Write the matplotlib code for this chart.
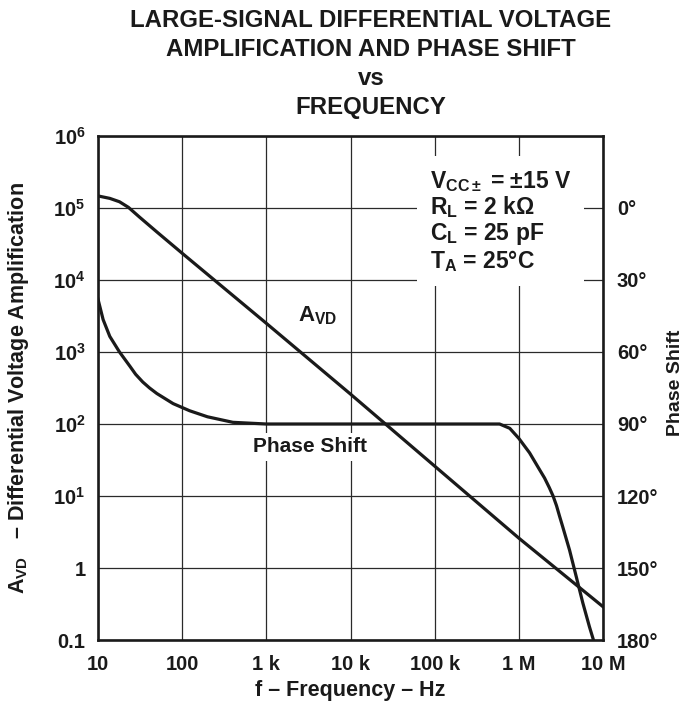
import matplotlib
matplotlib.use("Agg")
import matplotlib.pyplot as plt

# ---------------------------------------------------------------------------
# Data
# ---------------------------------------------------------------------------

avd_freq = [10, 13.8, 18, 23, 31, 50, 100, 1e3, 1e4, 1e5, 1e6, 1e7]
avd_gain = [1.47e5, 1.36e5, 1.22e5, 1.02e5, 7.5e4, 4.65e4, 2.35e4, 2.5e3, 260, 26, 2.6, 0.29]

phase_freq = [10, 11.5, 13.8, 18, 24, 28, 34, 41, 50, 78, 123, 200, 400, 1e3, 1e4,
              1e5, 5.9e5, 7.8e5, 1e6, 1.34e6, 1.76e6, 2.02e6, 2.3e6, 2.55e6,
              2.8e6, 3.05e6, 3.3e6, 4.0e6, 4.8e6, 5.75e6, 6.9e6, 7.7e6]
phase_deg = [38, 46.5, 53.5, 60, 66, 69.3, 72.5, 75, 77.3, 81.5, 84.5, 87, 89.3, 90, 90,
             90, 90, 91.8, 96, 102, 109, 112.5, 116.5, 120,
             124, 128.5, 132.5, 142.5, 153.5, 164.5, 174.5, 180]

x_ticks = [10, 100, 1e3, 1e4, 1e5, 1e6, 1e7]
x_labels = ["10", "100", "1 k", "10 k", "100 k", "1 M", "10 M"]
y_ticks = [0.1, 1, 10, 1e2, 1e3, 1e4, 1e5, 1e6]
y_labels = ["0.1", "1", "10$^1$", "10$^2$", "10$^3$", "10$^4$", "10$^5$", "10$^6$"]
phase_ticks = [0, 30, 60, 90, 120, 150, 180]
phase_labels = ["0°", "30°", "60°", "90°", "120°", "150°", "180°"]

conditions = ("V$_{\\mathrm{CC}\\pm}$ = $\\pm$15 V\n"
              "R$_{\\mathrm{L}}$ = 2 k$\\Omega$\n"
              "C$_{\\mathrm{L}}$ = 25 pF\n"
              "T$_{\\mathrm{A}}$ = 25°C")

# ---------------------------------------------------------------------------
# Style
# ---------------------------------------------------------------------------

plt.rcParams["font.family"] = ["Liberation Sans", "DejaVu Sans"]
plt.rcParams["font.weight"] = "bold"
plt.rcParams["mathtext.fontset"] = "custom"
plt.rcParams["mathtext.rm"] = "Liberation Sans:bold"
plt.rcParams["mathtext.it"] = "Liberation Sans:bold"
plt.rcParams["mathtext.bf"] = "Liberation Sans:bold"
plt.rcParams["mathtext.sf"] = "Liberation Sans:bold"

INK = "#1a1a1a"
GRID = "#2a2a2a"
TICK_FS = 14.5

fig = plt.figure(figsize=(6.83, 7.02), dpi=100)
ax = fig.add_axes([0.1435, 0.0883, 0.7394, 0.718])
ax2 = ax.twinx()

ax.set_xscale("log")
ax.set_yscale("log")
ax.set_xlim(10, 1e7)
ax.set_ylim(0.1, 1e6)

ax.grid(True, which="major", color=GRID, linewidth=0.9)
for sp in ax.spines.values():
    sp.set_linewidth(1.9)
    sp.set_color(INK)

ax.plot(avd_freq, avd_gain, color=INK, linewidth=2.3, zorder=3)

# phase on the right-hand scale (inverted, 0 deg at the 10^5 line)
ax2.set_ylim(180, -30)
for sp in ax2.spines.values():
    sp.set_visible(False)
ax2.plot(phase_freq, phase_deg, color=INK, linewidth=2.3, zorder=3)

ax.set_xticks(x_ticks)
ax.set_xticklabels(x_labels)
ax.set_yticks(y_ticks)
ax.set_yticklabels(y_labels)
ax.minorticks_off()
ax.tick_params(axis="both", length=0, labelsize=TICK_FS, colors=INK)
ax.tick_params(axis="x", pad=11)
ax.tick_params(axis="y", pad=9)

ax2.set_yticks(phase_ticks)
ax2.set_yticklabels(phase_labels)
ax2.tick_params(axis="y", length=0, labelsize=TICK_FS, colors=INK, pad=10)

ax.set_xlabel("f – Frequency – Hz", fontsize=15.5, fontweight="bold", color=INK)
ax.xaxis.set_label_coords(0.5, -0.079)
ax.set_ylabel("A$_{\\mathrm{VD}}$   – Differential Voltage Amplification",
              fontsize=15.5, fontweight="bold", color=INK)
ax.yaxis.set_label_coords(-0.132, 0.5)
ax2.set_ylabel("Phase Shift", fontsize=14, fontweight="bold", color=INK)
ax2.yaxis.set_label_coords(1.127, 0.51)

# curve labels and test conditions
ax.text(4.1e3, 3.2e3, "A$_{\\mathrm{VD}}$", fontsize=16, fontweight="bold",
        color=INK, ha="center", va="center", zorder=4)
ax.text(3.3e3, 48, "Phase Shift", fontsize=15, fontweight="bold", color=INK,
        ha="center", va="center",
        bbox=dict(facecolor="white", edgecolor="none", pad=3), zorder=4)
ax.text(0.657, 0.935, conditions, transform=ax.transAxes, fontsize=16.5,
        fontweight="bold", color=INK, ha="left", va="top", linespacing=1.04,
        bbox=dict(facecolor="white", edgecolor="none", pad=9), zorder=4)

# title
title_lines = ["LARGE-SIGNAL DIFFERENTIAL VOLTAGE", "AMPLIFICATION AND PHASE SHIFT",
               "vs", "FREQUENCY"]
title_y = [0.9715, 0.9288, 0.8875, 0.8462]
for line, yy in zip(title_lines, title_y):
    fig.text(0.543, yy, line, fontsize=17.3, fontweight="bold", color=INK,
             ha="center", va="center")

fig.savefig("out.png", dpi=100)
